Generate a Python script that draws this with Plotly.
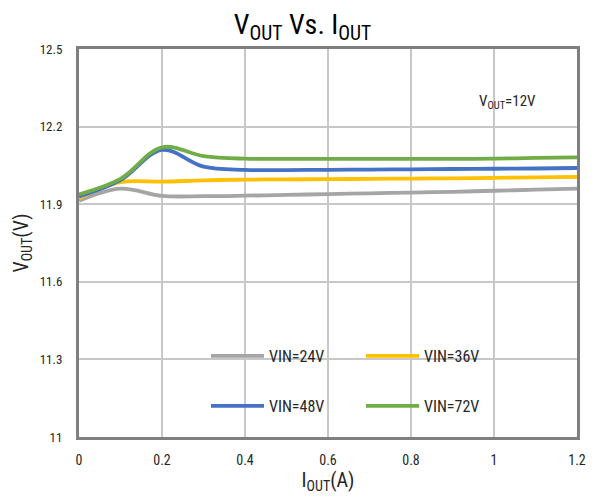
import plotly.graph_objects as go

# ---- data ----
iout = [0, 0.1, 0.2, 0.3, 0.4, 0.5, 0.6, 0.7, 0.8, 0.9, 1.0, 1.1, 1.2]
vin24 = [11.913, 11.960, 11.932, 11.931, 11.933, 11.936, 11.939, 11.942, 11.945, 11.948, 11.952, 11.956, 11.960]
vin36 = [11.923, 11.985, 11.987, 11.992, 11.995, 11.996, 11.997, 11.998, 11.999, 12.000, 12.002, 12.004, 12.006]
vin48 = [11.930, 11.993, 12.110, 12.045, 12.033, 12.032, 12.033, 12.034, 12.035, 12.036, 12.037, 12.038, 12.040]
vin72 = [11.938, 11.998, 12.120, 12.086, 12.076, 12.075, 12.075, 12.075, 12.075, 12.075, 12.076, 12.079, 12.081]

series_names = ["VIN=24V", "VIN=36V", "VIN=48V", "VIN=72V"]
series_vals = [vin24, vin36, vin48, vin72]
series_colors = ["#A5A5A5", "#FFC000", "#4472C4", "#70AD47"]
series_legend = ["legend", "legend", "legend2", "legend2"]

y_ticks = [11, 11.3, 11.6, 11.9, 12.2, 12.5]
y_ticktext = ["11", "11.3", "11.6", "11.9", "12.2", "12.5"]
x_ticks = [0, 0.2, 0.4, 0.6, 0.8, 1.0, 1.2]
x_ticktext = ["0", "0.2", "0.4", "0.6", "0.8", "1", "1.2"]

FONT = "Liberation Sans Narrow, Arial Narrow, Roboto Condensed, Liberation Sans, Arial, sans-serif"

fig = go.Figure()
for name, vals, col, lg in zip(series_names, series_vals, series_colors, series_legend):
    fig.add_trace(go.Scatter(
        x=iout, y=vals, mode="lines", name=name,
        line=dict(color=col, width=3.8, shape="spline", smoothing=1),
        legend=lg,
    ))

legend_common = dict(
    orientation="h", xanchor="left", yanchor="middle",
    bgcolor="rgba(0,0,0,0)", borderwidth=0,
    font=dict(family=FONT, size=16, color="#262626"),
    itemwidth=53, entrywidth=87, entrywidthmode="pixels",
    itemclick=False, itemdoubleclick=False,
)

# the page body adds an 8px offset, so the figure is 8px smaller on each axis
fig.update_layout(
    width=589, height=495,
    margin=dict(l=71, r=20, t=41, b=66),
    paper_bgcolor="white", plot_bgcolor="white",
    font=dict(family=FONT, color="#262626"),
    title=dict(text="V<sub>OUT</sub> Vs. I<sub>OUT</sub>", x=0.5, xanchor="center",
               y=0.967, yanchor="middle",
               font=dict(family=FONT, size=28, color="#000000")),
    showlegend=True,
    legend=dict(x=0.255, y=0.209, **legend_common),
    legend2=dict(x=0.255, y=0.080, **legend_common),
    xaxis=dict(
        range=[0, 1.2], tickvals=x_ticks, ticktext=x_ticktext,
        showgrid=True, gridcolor="#C8C8C8", gridwidth=1.5,
        showline=True, linecolor="#7F7F7F", linewidth=3, mirror=True,
        ticks="", ticklabelstandoff=8, zeroline=False,
        tickfont=dict(family=FONT, size=14, color="#262626"),
        title=dict(text="I<sub>OUT</sub>(A)", font=dict(family=FONT, size=20, color="#262626"), standoff=0),
    ),
    yaxis=dict(
        range=[11, 12.5], tickvals=y_ticks, ticktext=y_ticktext,
        showgrid=True, gridcolor="#C8C8C8", gridwidth=1.5,
        showline=True, linecolor="#7F7F7F", linewidth=3, mirror=True,
        ticks="", ticklabelstandoff=11, zeroline=False,
        tickfont=dict(family=FONT, size=13, color="#262626"),
        title=dict(text="V<sub>OUT</sub>(V)", font=dict(family=FONT, size=20, color="#262626"), standoff=6),
    ),
    annotations=[dict(
        text="V<sub>OUT</sub>=12V", x=0.86, y=12.295, xref="paper", yref="y",
        xanchor="center", yanchor="middle", showarrow=False,
        font=dict(family=FONT, size=15, color="#262626"),
    )],
)

fig.write_html("out.html")
